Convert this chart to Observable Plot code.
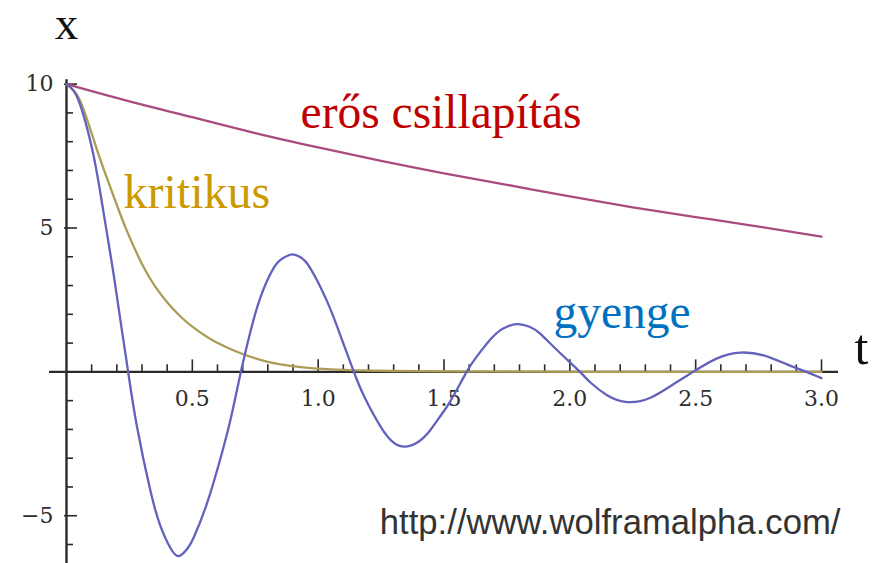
<!DOCTYPE html>
<html><head><meta charset="utf-8">
<script src="https://cdn.jsdelivr.net/npm/d3@7"></script>
<script src="https://cdn.jsdelivr.net/npm/@observablehq/plot@0.6"></script>
<style>html,body{margin:0;padding:0;background:#fff;overflow:hidden}</style>
</head><body><div id="chart"></div>
<script>
// ---- data ----
const seriesNames = ["erős csillapítás", "kritikus", "gyenge"];

// strong damping (erős csillapítás)
const strongT = [0, 0.25, 0.5, 0.75, 1.0, 1.25, 1.5, 1.75, 2.0, 2.25, 2.5, 2.75, 3.0];
const strongX = [10, 9.4, 8.85, 8.3, 7.8, 7.33, 6.9, 6.5, 6.1, 5.72, 5.38, 5.05, 4.7];

// critical damping (kritikus)
const critT = [0, 0.04, 0.075, 0.12, 0.16, 0.2, 0.24, 0.3, 0.35, 0.4, 0.45, 0.5, 0.57, 0.64, 0.7, 0.77, 0.85, 0.95, 1.05, 1.15, 1.3, 1.5, 1.8, 2.2, 2.6, 3.0];
const critX = [10, 9.65, 8.95, 7.75, 6.75, 5.8, 4.9, 3.75, 3.0, 2.42, 1.95, 1.57, 1.15, 0.84, 0.62, 0.42, 0.26, 0.15, 0.09, 0.055, 0.03, 0.015, 0.005, 0, 0, 0];

// weak damping (gyenge)
const weakT = [0, 0.03, 0.062, 0.108, 0.148, 0.188, 0.221, 0.245, 0.28, 0.334, 0.373, 0.413, 0.447, 0.48, 0.506, 0.559, 0.612, 0.652, 0.693,
  0.731, 0.771, 0.824, 0.86, 0.897, 0.93, 0.969, 1.036, 1.089, 1.142, 1.181, 1.248, 1.30, 1.347, 1.40, 1.446, 1.49, 1.526, 1.59, 1.63,
  1.685, 1.724, 1.75, 1.79, 1.84, 1.883, 1.95, 2.04, 2.082, 2.148, 2.228, 2.32, 2.413, 2.49, 2.585, 2.678, 2.77, 2.863, 2.94, 3.0];
const weakX = [10, 9.75, 9.08, 7.5, 5.5, 3.35, 1.4, 0, -1.9, -4.15, -5.35, -6.12, -6.4, -6.15, -5.75, -4.55, -3.0, -1.65, 0,
  1.4, 2.6, 3.62, 3.95, 4.08, 3.98, 3.6, 2.44, 1.25, 0, -0.82, -1.9, -2.46, -2.6, -2.42, -2.02, -1.48, -1.01, 0, 0.53,
  1.13, 1.45, 1.57, 1.66, 1.57, 1.32, 0.75, 0, -0.37, -0.81, -1.05, -0.9, -0.42, 0, 0.47, 0.67, 0.57, 0.26, 0, -0.22];

// ticks
const xTickValues = [0.5, 1.0, 1.5, 2.0, 2.5, 3.0];
const xTickLabels = ["0.5", "1.0", "1.5", "2.0", "2.5", "3.0"];
const xMinorTicks = [0.1, 0.2, 0.3, 0.4, 0.6, 0.7, 0.8, 0.9, 1.1, 1.2, 1.3, 1.4, 1.6, 1.7, 1.8, 1.9, 2.1, 2.2, 2.3, 2.4, 2.6, 2.7, 2.8, 2.9];
const yTickValues = [10, 5, -5];
const yTickLabels = ["10", "5", "\u22125"];
const yMinorTicks = [9, 8, 7, 6, 4, 3, 2, 1, -1, -2, -3, -4, -6];

// ---- layout ----
const W = 872, H = 563;
const xDom = [-0.0675, 3.0675], yDom = [-6.66, 10.3];
const mL = 49, mR = 34, mT = 75, mB = 0;
const pxX = (W - mL - mR) / (xDom[1] - xDom[0]);   // pixels per t unit
const pxY = (H - mT - mB) / (yDom[1] - yDom[0]);   // pixels per x unit

const toRows = (T, X) => T.map((t, i) => ({t, x: X[i]}));
const strong = toRows(strongT, strongX);
const crit = toRows(critT, critX);
const weak = toRows(weakT, weakX);

const axisColor = "#2a2a2a";
const serif = "Liberation Serif, Times New Roman, serif";
const tickFont = "DejaVu Serif, serif";

const chart = Plot.plot({
  width: W, height: H,
  marginLeft: mL, marginRight: mR, marginTop: mT, marginBottom: mB,
  x: {domain: xDom, axis: null},
  y: {domain: yDom, axis: null},
  style: {background: "#fff", overflow: "visible"},
  marks: [
    // axes
    Plot.ruleY([0], {x1: xDom[0], x2: xDom[1], stroke: axisColor, strokeWidth: 2.4}),
    Plot.ruleX([0], {y1: yDom[0], y2: 10.15, stroke: axisColor, strokeWidth: 2.4}),
    Plot.ruleX(xMinorTicks, {x: d => d, y1: 0, y2: 7 / pxY, stroke: axisColor, strokeWidth: 1.6}),
    Plot.ruleX(xTickValues, {x: d => d, y1: 0, y2: 12 / pxY, stroke: axisColor, strokeWidth: 1.6}),
    Plot.ruleY(yMinorTicks, {y: d => d, x1: 0, x2: 7 / pxX, stroke: axisColor, strokeWidth: 1.6}),
    Plot.ruleY(yTickValues, {y: d => d, x1: -2 / pxX, x2: 11 / pxX, stroke: axisColor, strokeWidth: 1.6}),
    Plot.text(xTickValues, {x: d => d, y: 0, text: (d, i) => xTickLabels[i], dy: 27, lineAnchor: "middle",
      textAnchor: "middle", fontFamily: tickFont, fontSize: 22, fill: "#2e2e2e", style: "letter-spacing:0.8px"}),
    Plot.text(yTickValues, {x: 0, y: d => d, text: (d, i) => yTickLabels[i], dx: -13, lineAnchor: "middle",
      textAnchor: "end", fontFamily: tickFont, fontSize: 22, fill: "#2e2e2e"}),
    // axis names
    Plot.text(["x"], {x: 0, y: yDom[1], dy: -37, text: d => d, textAnchor: "middle", lineAnchor: "bottom",
      fontFamily: serif, fontSize: 47, fill: "#111"}),
    Plot.text(["t"], {x: xDom[1], y: 0, dx: 16, dy: -8, text: d => d, textAnchor: "start", lineAnchor: "bottom",
      fontFamily: serif, fontSize: 50, fill: "#111"}),
    // curves
    Plot.line(crit, {x: "t", y: "x", stroke: "#ab9d58", strokeWidth: 2.3, curve: "natural"}),
    Plot.line(strong, {x: "t", y: "x", stroke: "#aa4b80", strokeWidth: 2.3, curve: "natural"}),
    Plot.line(weak, {x: "t", y: "x", stroke: "#6262bc", strokeWidth: 2.3, curve: "natural"}),
    // series labels
    Plot.text([seriesNames[0]], {x: 0.93, y: 8.46, text: d => d, textAnchor: "start", lineAnchor: "bottom",
      fontFamily: serif, fontSize: 47.5, fill: "#c00000"}),
    Plot.text([seriesNames[1]], {x: 0.2265, y: 5.71, text: d => d, textAnchor: "start", lineAnchor: "bottom",
      fontFamily: serif, fontSize: 48, fill: "#cc9900"}),
    Plot.text([seriesNames[2]], {x: 1.935, y: 1.54, text: d => d, textAnchor: "start", lineAnchor: "bottom",
      fontFamily: serif, fontSize: 47.5, fill: "#0070c0"}),
    // credit
    Plot.text(["http://www.wolframalpha.com/"], {x: xDom[1], y: -5, dx: 2, dy: 18, text: d => d,
      textAnchor: "end", lineAnchor: "bottom", fontFamily: "Liberation Sans, Arial, sans-serif", fontSize: 34.7, fill: "#333"})
  ]
});
document.getElementById("chart").appendChild(chart);
</script>
</body></html>
